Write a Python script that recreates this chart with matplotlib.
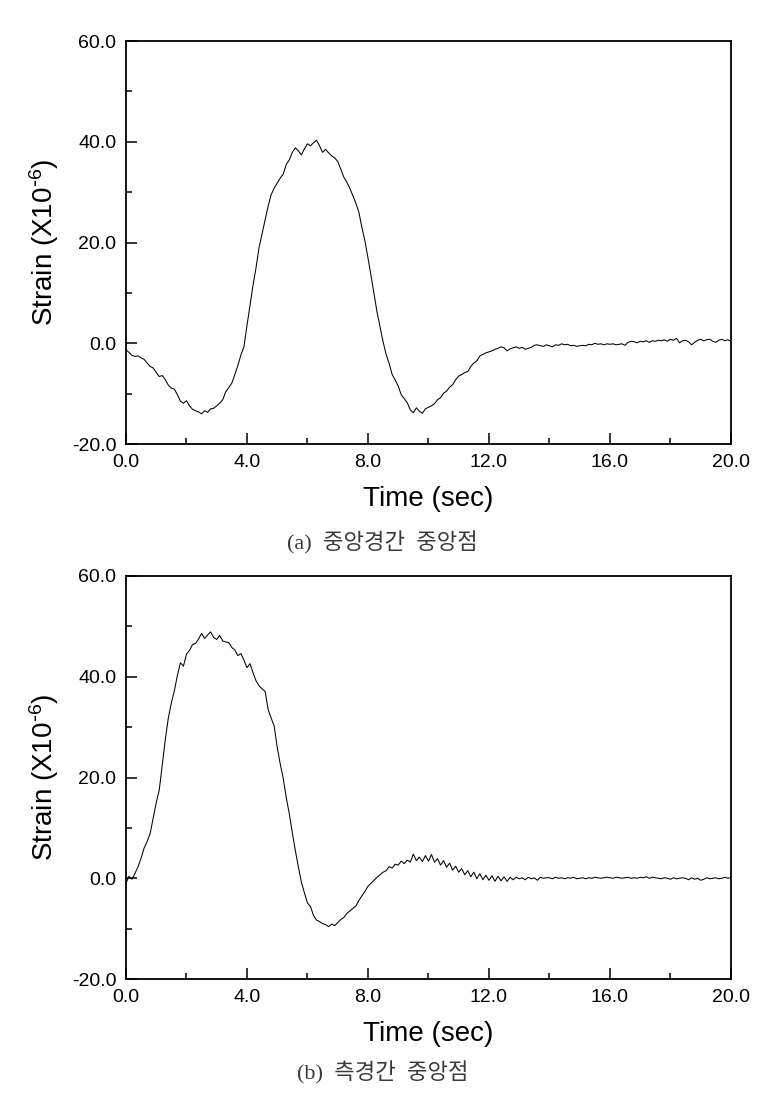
import numpy as np
import matplotlib
matplotlib.use("Agg")
import matplotlib.pyplot as plt
from matplotlib.ticker import MultipleLocator, FormatStrFormatter

plt.rcParams['font.family'] = ['Liberation Sans', 'DejaVu Sans']
plt.rcParams['mathtext.default'] = 'regular'

# time axis, one reading every 0.1 s
time = np.round(np.arange(201) * 0.1, 1)

# (a) mid-span strain
strain_a = [
    -1.3, -1.8, -2.4, -2.6, -2.5, -2.9, -3.2, -3.9, -4.6, -4.9,
    -5.8, -6.6, -6.4, -7.2, -8.3, -8.9, -9.1, -10.2, -11.5, -11.9,
    -11.4, -12.4, -13.1, -13.4, -13.6, -14.0, -13.4, -13.7, -13.0, -12.9,
    -12.4, -11.9, -11.2, -9.6, -8.8, -7.9, -6.2, -4.4, -2.3, -0.7,
    3.5, 7.5, 11.5, 15.0, 19.0, 21.8, 24.5, 27.2, 29.5, 30.8,
    31.8, 32.8, 33.6, 35.5, 36.4, 37.9, 38.8, 38.2, 37.4, 38.6,
    39.6, 39.2, 39.8, 40.3, 39.2, 37.9, 38.5, 37.8, 37.2, 36.8,
    36.1, 34.6, 33.0, 32.0, 30.8, 29.3, 27.8, 26.0, 23.0, 20.3,
    17.0, 13.5, 9.8, 6.2, 3.3, 0.3, -2.2, -4.0, -6.2, -7.3,
    -8.5, -10.2, -11.0, -11.8, -13.2, -13.8, -12.8, -13.5, -13.9, -13.0,
    -12.7, -12.4, -12.0, -11.2, -10.8, -9.9, -9.5, -8.7, -8.2, -7.2,
    -6.5, -6.2, -5.8, -5.6, -4.6, -3.9, -3.5, -2.5, -2.2, -1.9,
    -1.7, -1.5, -1.2, -1.0, -0.7, -0.9, -1.5, -1.1, -0.9, -0.7,
    -1.0, -0.8, -1.2, -1.0, -0.8, -0.4, -0.3, -0.5, -0.6, -0.3,
    -0.5, -0.7, -0.3, -0.4, -0.1, -0.3, -0.2, -0.5, -0.4, -0.6,
    -0.5, -0.4, -0.5, -0.2, -0.3, 0.0, -0.2, -0.1, -0.3, -0.1,
    -0.2, -0.1, -0.3, -0.2, -0.1, -0.4, 0.2, 0.4, 0.3, 0.1,
    0.4, 0.3, 0.5, 0.2, 0.5, 0.4, 0.6, 0.5, 0.7, 0.4,
    0.8, 0.6, 1.0, 0.1, 0.5, 0.6, 0.3, -0.3, 0.2, 0.6,
    0.8, 0.5, 0.7, 0.8, 0.4, 0.2, 0.6, 0.8, 0.5, 0.7,
    0.4,
]

# (b) side-span strain
strain_b = [
    -1.0, 0.4, -0.2, 1.0, 2.3, 4.0, 6.0, 7.3, 8.9, 12.0,
    15.0, 17.5, 22.5, 27.5, 31.8, 34.8, 37.2, 40.3, 42.8, 42.1,
    44.5, 45.2, 46.4, 46.6, 47.5, 48.6, 47.6, 48.3, 48.9, 47.8,
    47.4, 48.2, 47.1, 46.9, 46.8, 45.8, 45.3, 44.2, 44.6, 43.3,
    41.8, 42.6, 40.8, 39.2, 38.2, 37.6, 37.1, 33.5, 31.8, 30.2,
    26.0, 22.7, 19.8, 16.0, 12.8, 9.0, 5.5, 2.2, -0.8, -2.9,
    -4.9, -5.6, -7.4, -8.3, -8.6, -9.0, -9.2, -9.6, -9.1, -9.4,
    -8.8, -8.2, -7.8, -7.0, -6.5, -6.0, -5.5, -4.4, -3.5, -2.6,
    -1.6, -1.0, -0.4, 0.2, 0.7, 1.2, 1.5, 2.3, 2.0, 2.8,
    2.6, 3.4, 2.9, 3.6, 3.2, 4.8, 3.5, 4.2, 3.3, 4.5,
    3.4, 4.7, 3.2, 3.9, 2.6, 3.5, 2.2, 3.0, 1.6, 2.4,
    1.2, 1.9, 0.7, 1.5, 0.3, 1.2, -0.1, 0.9, -0.3, 0.6,
    -0.4, 0.5, -0.6, 0.4, -0.5, 0.3, -0.6, 0.2, -0.3, 0.2,
    -0.1, 0.1, -0.3, 0.2, -0.1, 0.1, -0.4, 0.2, 0.0, 0.1,
    0.1, -0.1, 0.2, 0.0, 0.1, -0.1, 0.1, 0.0, 0.2, -0.1,
    0.0, 0.1, -0.1, 0.1, 0.0, 0.2, 0.1, 0.0, 0.1, 0.2,
    0.1, 0.0, 0.2, 0.1, 0.0, 0.1, 0.2, 0.0, 0.1, 0.0,
    0.2, 0.1, 0.3, 0.0, 0.2, 0.1, 0.0, -0.1, 0.1, 0.0,
    -0.2, 0.1, -0.1, 0.0, 0.1, 0.0, -0.3, 0.1, -0.2, 0.0,
    -0.4, -0.2, 0.1, -0.1, 0.0, 0.1, -0.1, 0.0, 0.2, 0.0,
    0.1,
]

captions = ['(a)  중앙경간  중앙점', '(b)  측경간  중앙점']

fig = plt.figure(figsize=(7.79, 10.94), dpi=100)
ax_a = fig.add_axes([0.1617, 0.5941, 0.7766, 0.3684])
ax_b = fig.add_axes([0.1617, 0.1051, 0.7766, 0.3684])

for ax, y, cap, cy in [(ax_a, strain_a, captions[0], 0.504),
                       (ax_b, strain_b, captions[1], 0.019)]:
    ax.plot(time, y, color='black', lw=0.75)
    ax.set_xlim(0, 20)
    ax.set_ylim(-20, 60)
    ax.xaxis.set_major_locator(MultipleLocator(4))
    ax.xaxis.set_minor_locator(MultipleLocator(2))
    ax.yaxis.set_major_locator(MultipleLocator(20))
    ax.yaxis.set_minor_locator(MultipleLocator(10))
    ax.xaxis.set_major_formatter(FormatStrFormatter('%.1f'))
    ax.yaxis.set_major_formatter(FormatStrFormatter('%.1f'))
    ax.tick_params(which='both', direction='in', top=False, right=False,
                   width=1.1, labelsize=14)
    ax.tick_params(which='major', length=8, pad=7)
    ax.tick_params(which='minor', length=4)
    for s in ax.spines.values():
        s.set_linewidth(1.3)
    ax.set_xlabel('Time (sec)', fontsize=20)
    ax.set_ylabel(r'Strain (X10$^{\text{-}6}$)', fontsize=20)
    ax.xaxis.set_label_coords(0.5, -0.105)
    ax.yaxis.set_label_coords(-0.108, 0.5)
    fig.text(0.491, cy, cap, ha='center', va='center', fontsize=16,
             color='#3a3a3a', family=['Liberation Serif', 'Noto Sans CJK KR'])

fig.savefig('out.png', dpi=100)
